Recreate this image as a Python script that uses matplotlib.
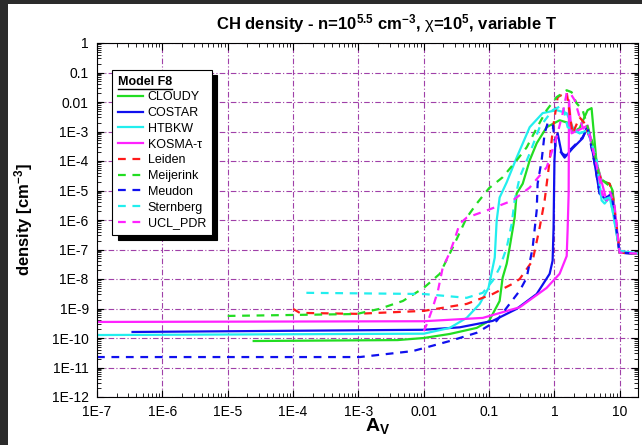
"""CH density vs A_V for model F8 (n=10^5.5, chi=10^5, variable T)."""
import matplotlib
matplotlib.use("Agg")
import matplotlib.pyplot as plt
import numpy as np
from matplotlib.ticker import LogLocator, FuncFormatter, NullFormatter
from matplotlib.patches import Rectangle
from matplotlib.lines import Line2D

plt.rcParams["font.family"] = ["Liberation Sans", "DejaVu Sans"]
plt.rcParams["mathtext.fontset"] = "custom"
plt.rcParams["mathtext.rm"] = "Liberation Sans"
plt.rcParams["mathtext.it"] = "Liberation Sans:italic"
plt.rcParams["mathtext.bf"] = "Liberation Sans:bold"

# ---- data (A_V, CH density) ----
cloudy_av = [2.5e-5, 4e-3, 0.01, 0.025, 0.0646, 0.1, 0.145, 0.161, 0.186, 0.206, 0.246, 0.264,
             0.327, 0.418, 0.535, 0.76, 1.2, 1.71, 1.9, 2.43, 3.22, 3.7, 4.42, 5.27, 6.98,
             7.76, 8.93, 9.93, 20]
cloudy_n = [7.9e-11, 8.5e-11, 1.0e-10, 1.37e-10, 2.2e-10, 3.8e-10, 1.8e-9, 1.1e-8, 3.3e-8,
            1.15e-7, 1.2e-6, 7.9e-6, 1.7e-5, 1.05e-4, 4e-4, 1.4e-3, 2.4e-3, 1.9e-3, 9.4e-4,
            1.3e-3, 5.3e-3, 6.2e-3, 8.3e-5, 2.2e-5, 1.7e-5, 1e-5, 4.4e-7, 7.8e-8, 7.2e-8]

costar_av = [3.5e-7, 0.01, 0.0355, 0.1135, 0.264, 0.535, 0.845, 0.938, 0.97, 1.0, 1.04, 1.12,
             1.29, 1.43, 1.9, 2.7, 3.1, 3.45, 4.12, 4.91, 6.29, 7.5, 8.32, 9.93, 20]
costar_n = [1.6e-10, 1.9e-10, 2.3e-10, 3.8e-10, 9.7e-10, 3.1e-9, 1.5e-8, 4.2e-8, 5.5e-7,
            1.05e-4, 5e-4, 8.7e-4, 1.8e-4, 1.3e-4, 2.7e-4, 5.9e-4, 1.3e-3, 8.7e-4, 8.3e-5,
            7.9e-6, 4.6e-6, 6.8e-6, 1.65e-6, 7.8e-8, 7.2e-8]

htbkw_av = [1e-7, 0.01, 0.025, 0.0454, 0.0718, 0.098, 0.122, 0.1306, 0.145, 0.186, 0.264,
            0.418, 0.66, 1.08, 1.54, 1.9, 2.43, 3.22, 4.42, 5.27, 5.86, 6.98, 7.76, 9.93, 20]
htbkw_n = [1.26e-10, 1.4e-10, 2.2e-10, 4.8e-10, 1.43e-9, 5e-9, 5.3e-8, 9.5e-7, 5.8e-6, 1.9e-5,
           1.3e-4, 1.4e-3, 4.2e-3, 5.3e-3, 4.2e-3, 1.4e-3, 8.7e-4, 1.1e-3, 1.05e-4, 4.6e-6,
           3.6e-6, 5.8e-6, 2.1e-6, 9e-8, 7.2e-8]

kosma_av = [1e-7, 0.01, 0.08, 0.294, 0.76, 1.2, 1.54, 1.59, 1.65, 1.66, 1.67, 1.83, 2.7, 3.22,
            4.42, 6.29, 7.5, 8.32, 9.93, 20]
kosma_n = [3.5e-10, 3.7e-10, 4.8e-10, 1.1e-9, 5e-9, 1.5e-8, 6e-8, 4.4e-7, 7.9e-6, 2.3e-4,
           1.15e-2, 8.7e-4, 1.3e-3, 1.6e-3, 8.3e-5, 4.6e-6, 7.9e-6, 2.6e-6, 7.8e-8, 7.2e-8]

leiden_av = [1e-4, 1.27e-4, 9.3e-4, 0.01, 0.0454, 0.1135, 0.23, 0.294, 0.464, 0.594, 0.708,
             0.845, 0.94, 1.12, 1.54, 1.71, 1.9, 2.43, 2.9, 3.45, 4.42, 5.46, 6.98, 7.76,
             9.25, 9.93, 20]
leiden_n = [9.7e-10, 7.1e-10, 6.6e-10, 8.3e-10, 1.43e-9, 3.1e-9, 6.9e-9, 1e-8, 4.2e-8, 5.5e-7,
            4.6e-6, 1.05e-4, 1.1e-3, 1.46e-2, 2.15e-2, 4.2e-3, 8.7e-4, 3e-3, 1.9e-3, 6.4e-4,
            4.8e-5, 1.9e-5, 1.7e-5, 7.9e-6, 3.4e-7, 7.8e-8, 7.2e-8]

meijerink_av = [1e-5, 9.3e-4, 2.1e-3, 4.8e-3, 0.01, 0.0176, 0.0277, 0.0454, 0.0646, 0.1, 0.161,
                0.264, 0.376, 0.535, 0.76, 1.08, 1.54, 1.83, 2.18, 2.7, 3.84, 4.91, 6.29, 7.5,
                8.93, 9.93, 20]
meijerink_n = [5.6e-10, 6.5e-10, 9.7e-10, 1.8e-9, 5e-9, 1.5e-8, 1.15e-7, 1.2e-6, 3.6e-6, 1.2e-5,
               2.8e-5, 1.05e-4, 2.9e-4, 1.3e-3, 5.3e-3, 1.46e-2, 2.5e-2, 2.15e-2, 9.1e-3,
               5.3e-3, 4e-4, 2.8e-5, 1.7e-5, 1.26e-5, 4.4e-7, 7.8e-8, 7.2e-8]

meudon_av = [1e-7, 1.05e-3, 6.8e-3, 0.025, 0.0646, 0.1306, 0.206, 0.294, 0.376, 0.464, 0.535,
             0.553, 0.637, 0.708, 0.787, 0.938, 1.04, 1.43, 2.7, 3.22, 4.12, 4.91, 6.29, 7.5,
             8.93, 9.93, 20]
meudon_n = [2.26e-11, 2.26e-11, 3.6e-11, 7.9e-11, 1.5e-10, 3.8e-10, 1.43e-9, 4e-9, 1.1e-8,
            1.15e-7, 2.1e-6, 1.7e-5, 1.05e-4, 8.7e-4, 1.9e-3, 1.9e-3, 2.9e-4, 1.55e-4, 6.4e-4,
            1.3e-3, 8.3e-5, 7.9e-6, 5.8e-6, 7.9e-6, 4.4e-7, 7.8e-8, 7.2e-8]

sternberg_av = [1.6e-4, 0.01, 0.0454, 0.08, 0.1135, 0.145, 0.186, 0.222, 0.246, 0.294, 0.418,
                0.594, 0.938, 1.34, 1.59, 2.43, 3.22, 4.42, 5.27, 6.98, 7.76, 9.93, 20]
sternberg_n = [3.4e-9, 3.1e-9, 2.3e-9, 3.4e-9, 8.7e-9, 2.4e-8, 1.15e-7, 7.5e-7, 4.6e-6, 2.8e-5,
               1.8e-4, 1.4e-3, 5.3e-3, 7.8e-3, 1.4e-3, 8.7e-4, 1.1e-3, 1.05e-4, 4.6e-6, 5.8e-6,
               2.1e-6, 9e-8, 7.2e-8]

ucl_av = [0.01, 0.0112, 0.0137, 0.0165, 0.0195, 0.025, 0.0298, 0.0355, 0.0454, 0.0918, 0.23,
          0.418, 0.76, 1.08, 1.34, 1.54, 1.71, 2.04, 2.7, 3.45, 4.42, 5.46, 6.98, 8.32, 9.93, 20]
ucl_n = [1.7e-10, 3e-10, 1.05e-9, 4e-9, 2.4e-8, 7.8e-8, 2.3e-7, 7.5e-7, 1.2e-6, 2.1e-6, 4.6e-6,
         1.26e-5, 6.1e-5, 6.4e-4, 4.2e-3, 2e-2, 2.15e-2, 1.15e-2, 1.4e-3, 7.4e-4, 7e-5, 6.8e-6,
         1e-5, 3e-6, 7.8e-8, 7.2e-8]

models = ["CLOUDY", "COSTAR", "HTBKW", "KOSMA-\u03c4", "Leiden", "Meijerink", "Meudon",
          "Sternberg", "UCL_PDR"]
series = [(cloudy_av, cloudy_n), (costar_av, costar_n), (htbkw_av, htbkw_n), (kosma_av, kosma_n),
          (leiden_av, leiden_n), (meijerink_av, meijerink_n), (meudon_av, meudon_n),
          (sternberg_av, sternberg_n), (ucl_av, ucl_n)]
colors = ["#22dd22", "#1010ee", "#22eeee", "#ff22ff", "#ff1a1a", "#22dd22", "#1010ee",
          "#22eeee", "#ff22ff"]
dashed = [False] * 4 + [True] * 5

fig = plt.figure(figsize=(6.42, 4.45), dpi=100)
fig.patch.set_facecolor("#2b2b2b")
fig.add_artist(Rectangle((8 / 642, 0), 1, 1 - 4 / 445, transform=fig.transFigure,
                         facecolor="white", edgecolor="none", zorder=-10))
ax = fig.add_axes([97 / 642, 1 - 397 / 445, 541 / 642, 354 / 445])

for name, (av, n), c, d in zip(models, series, colors, dashed):
    ls = (0, (3.5, 3)) if d else "-"
    ax.plot(av, n, color=c, lw=1.6, ls=ls, label=name)

ax.set_xscale("log")
ax.set_yscale("log")
ax.set_xlim(1e-7, 19)
ax.set_ylim(1e-12, 1)


def fmt(v, pos):
    e = int(round(np.log10(v)))
    if e >= 0:
        return f"{10 ** e:d}"
    if e >= -2:
        return f"{10.0 ** e:g}"
    return f"1E{e}"


for axis in (ax.xaxis, ax.yaxis):
    axis.set_major_locator(LogLocator(base=10, numticks=30))
    axis.set_minor_locator(LogLocator(base=10, subs=np.arange(2, 10), numticks=300))
    axis.set_major_formatter(FuncFormatter(fmt))
    axis.set_minor_formatter(NullFormatter())

ax.tick_params(which="both", direction="in", top=True, right=True, labelsize=10)
ax.tick_params(which="major", length=5, pad=6)
ax.tick_params(which="minor", length=3)
ax.grid(which="major", color="#a040a8", ls=(0, (5, 2, 1, 2)), lw=0.8)

ax.set_xlabel("A$_\\mathbf{V}$", fontsize=14, fontweight="bold")
ax.xaxis.set_label_coords(0.518, -0.055)
ax.set_ylabel("density [cm$^{\\mathbf{-3}}$]", fontsize=12, fontweight="bold")
ax.yaxis.set_label_coords(-0.115, 0.5)

fig.text(387 / 642, 1 - 24 / 445,
         "CH density - n=10$^{\\mathbf{5.5}}$ cm$^{\\mathbf{-3}}$, $\\mathrm{\\chi}$=10$^{\\mathbf{5}}$, variable T",
         ha="center", va="center", fontsize=12, fontweight="bold")

leg = ax.legend(loc="upper left", bbox_to_anchor=(0.028, 0.924), borderaxespad=0,
                fontsize=9, title="Model F8", title_fontproperties={"weight": "bold", "size": 9},
                alignment="left", fancybox=False, framealpha=1, edgecolor="black",
                shadow={"color": "black", "alpha": 1, "ox": 4, "oy": -4},
                handlelength=2.0, handletextpad=0.4, labelspacing=0.3, borderpad=0.45)
leg.get_frame().set_linewidth(0.8)

# underline the legend title
fig.canvas.draw()
bb = leg.get_title().get_window_extent()
fig.add_artist(Line2D([bb.x0 / fig.bbox.width, bb.x1 / fig.bbox.width],
                      [(bb.y0 - 1) / fig.bbox.height] * 2, transform=fig.transFigure,
                      color="black", lw=1))

fig.savefig("out.png", dpi=100)
